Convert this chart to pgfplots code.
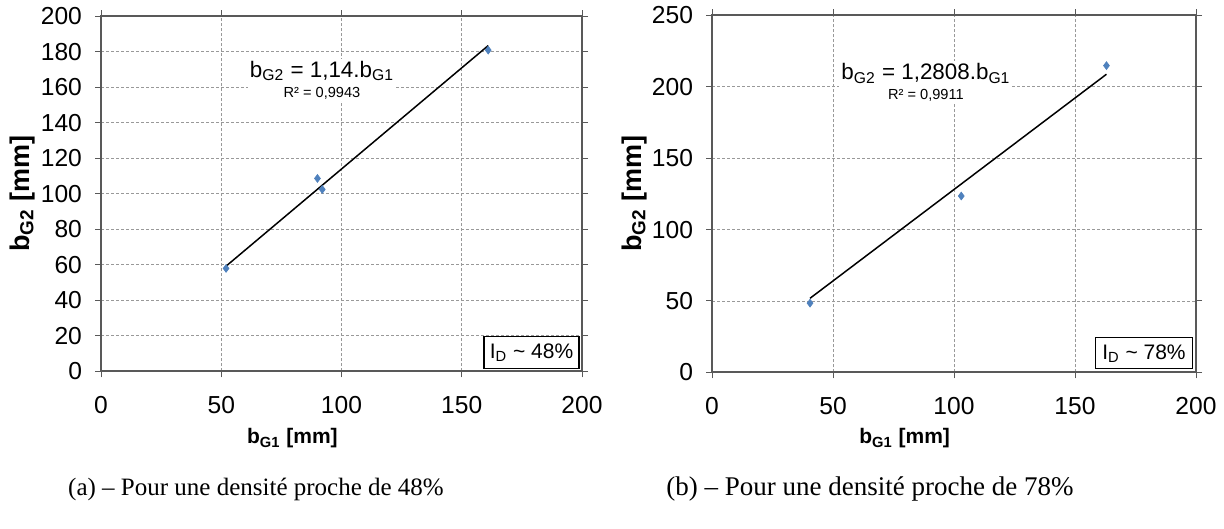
\documentclass[border=0pt]{standalone}
\usepackage{fontspec}
\setmainfont{Liberation Sans}
\newfontfamily\timesfont{Liberation Serif}
\usepackage{pgfplots}
\pgfplotsset{compat=1.18}
\definecolor{mk}{HTML}{4F81BD}
\definecolor{axgray}{HTML}{595959}
\pgfplotsset{mystyle/.style={
  scale only axis,
  anchor=south west,
  axis line style={axgray, line width=1pt},
  tick align=outside, major tick length=3pt,
  tick style={axgray, line width=0.5pt},
  xmin=0, xmax=200, ymin=0,
  xtick={0,50,...,200},
  grid=major,
  major grid style={black!40, dash pattern=on 1.5pt off 1pt, line width=0.4pt},
  /pgf/number format/assume math mode=true,
  ticklabel style={font=\fontsize{12.3}{13}\selectfont},
  yticklabel style={xshift=-3pt},
  xticklabel style={yshift=-6pt},
  xlabel style={font=\bfseries\fontsize{10.5}{12}\selectfont},
  ylabel style={font=\bfseries\fontsize{13.5}{14}\selectfont},
  clip=false,
}}
\begin{document}
\begin{tikzpicture}
\path (0pt,0pt) rectangle (612pt,264pt);
% (a)
\begin{axis}[mystyle,
  at={(50.5pt,78.5pt)}, width=240.5pt, height=177.5pt,
  ymax=200, ytick={0,20,...,200},
  xlabel={b\textsubscript{G1} [mm]},
  ylabel={b\textsubscript{G2} [mm]},
  xlabel style={at={(axis description cs:0.398,-0.189)}, anchor=center},
  ylabel style={at={(axis description cs:-0.164,0.5)}, anchor=center},
]
\addplot[black, line width=0.75pt] coordinates {(52,59.28) (161,183.54)};
\addplot[only marks, mark=diamond*, mark size=1.9pt, mk, mark options={fill=mk}] coordinates {
(52,58) (90,108.7) (92,102.5) (161,181)};
\node[fill=white, inner sep=1pt, align=center, font=\fontsize{11.2}{11}\selectfont] at (axis cs:91.9,164)
  {b\textsubscript{G2} = 1,14.b\textsubscript{G1}\\[-1pt]{\fontsize{7.3}{8}\selectfont R² = 0,9943}};
\node[draw=black, line width=0.6pt, fill=white, minimum width=47.5pt, minimum height=16pt, inner sep=1pt,
  font=\fontsize{10.5}{12}\selectfont] at (axis cs:179,10.7) {I\textsubscript{D} \textasciitilde{} 48\%};
\end{axis}
% (b)
\begin{axis}[mystyle,
  at={(356pt,78pt)}, width=242pt, height=178.5pt,
  ymax=250, ytick={0,50,...,250},
  xlabel={b\textsubscript{G1} [mm]},
  ylabel={b\textsubscript{G2} [mm]},
  xlabel style={at={(axis description cs:0.398,-0.185)}, anchor=center},
  ylabel style={at={(axis description cs:-0.161,0.5)}, anchor=center},
]
\addplot[black, line width=0.75pt] coordinates {(40.5,51.87) (163,208.77)};
\addplot[only marks, mark=diamond*, mark size=1.9pt, mk, mark options={fill=mk}] coordinates {
(40.5,48.5) (103,123.5) (163,214.8)};
\node[fill=white, inner sep=1pt, align=center, font=\fontsize{11.2}{11}\selectfont] at (axis cs:88.4,203)
  {b\textsubscript{G2} = 1,2808.b\textsubscript{G1}\\[-1pt]{\fontsize{7.3}{8}\selectfont R² = 0,9911}};
\node[draw=black, line width=0.6pt, fill=white, minimum width=48.5pt, minimum height=15.5pt, inner sep=1pt,
  font=\fontsize{10.5}{12}\selectfont] at (axis cs:178.5,13.3) {I\textsubscript{D} \textasciitilde{} 78\%};
\end{axis}
\node[font=\timesfont\fontsize{12.5}{15}\selectfont] at (128pt,19.5pt) {(a) – Pour une densité proche de 48\%};
\node[font=\timesfont\fontsize{13.5}{15}\selectfont] at (435pt,19.5pt) {(b) – Pour une densité proche de 78\%};
\end{tikzpicture}
\end{document}
